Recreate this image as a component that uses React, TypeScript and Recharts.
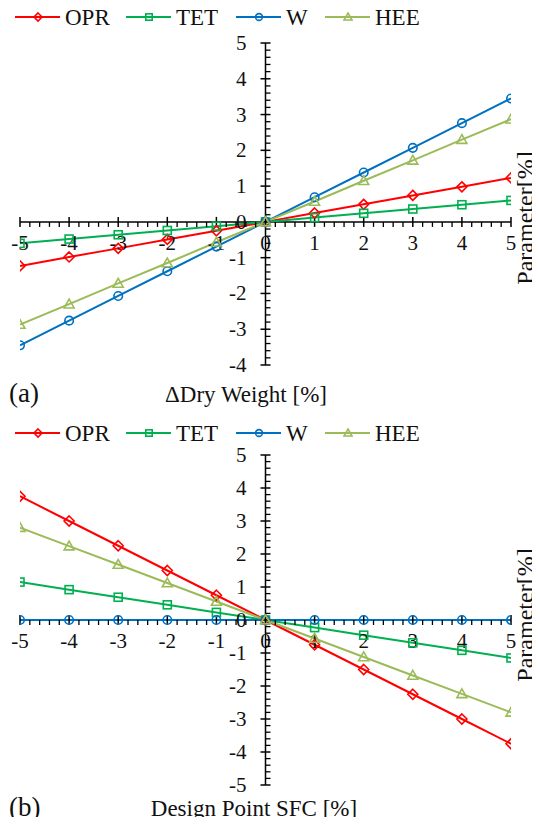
import React from "react";
import {
  LineChart,
  Line,
  XAxis,
  YAxis,
  ReferenceLine,
  ReferenceDot,
} from "recharts";

const X_VALUES = [-5, -4, -3, -2, -1, 0, 1, 2, 3, 4, 5];

// (a) ΔDry Weight
const OPR_A = [-1.23, -0.98, -0.74, -0.49, -0.25, 0, 0.25, 0.49, 0.74, 0.98, 1.23];
const TET_A = [-0.6, -0.48, -0.36, -0.24, -0.12, 0, 0.12, 0.24, 0.36, 0.48, 0.6];
const W_A = [-3.45, -2.76, -2.07, -1.38, -0.69, 0, 0.69, 1.38, 2.07, 2.76, 3.45];
const HEE_A = [-2.87, -2.3, -1.72, -1.15, -0.57, 0, 0.57, 1.15, 1.72, 2.3, 2.87];

// (b) Design Point SFC
const OPR_B = [3.75, 3.0, 2.25, 1.5, 0.75, 0, -0.75, -1.5, -2.25, -3.0, -3.75];
const TET_B = [1.15, 0.92, 0.69, 0.46, 0.23, 0, -0.23, -0.46, -0.69, -0.92, -1.15];
const W_B = [0, 0, 0, 0, 0, 0, 0, 0, 0, 0, 0];
const HEE_B = [2.8, 2.24, 1.68, 1.12, 0.56, 0, -0.56, -1.12, -1.68, -2.24, -2.8];

const X_TICKS = [-5, -4, -3, -2, -1, 0, 1, 2, 3, 4, 5];
const Y_TICKS_A = [-4, -3, -2, -1, 0, 1, 2, 3, 4, 5];
const Y_TICKS_B = [-5, -4, -3, -2, -1, 0, 1, 2, 3, 4, 5];

const SERIES = [
  { key: "OPR", color: "#ff0000", shape: "diamond" },
  { key: "TET", color: "#00b050", shape: "square" },
  { key: "W", color: "#0070c0", shape: "circle" },
  { key: "HEE", color: "#9bbb59", shape: "triangle" },
];

const FONT = "Liberation Serif";

function minorTicks(lo: number, hi: number) {
  const out: number[] = [];
  for (let i = Math.round(lo * 5); i <= Math.round(hi * 5); i++) {
    if (i % 5 !== 0) out.push(i / 5);
  }
  return out;
}

function Marker({ shape, cx, cy, color, s }: any) {
  const common = { fill: "none", stroke: color, strokeWidth: 1.6 };
  if (shape === "diamond")
    return (
      <polygon
        {...common}
        points={`${cx},${cy - s} ${cx + s},${cy} ${cx},${cy + s} ${cx - s},${cy}`}
      />
    );
  if (shape === "square")
    return <rect {...common} x={cx - s * 0.8} y={cy - s * 0.8} width={s * 1.6} height={s * 1.6} />;
  if (shape === "circle") return <circle {...common} cx={cx} cy={cy} r={s * 0.85} />;
  return (
    <polygon
      {...common}
      points={`${cx},${cy - s} ${cx + s},${cy + s * 0.75} ${cx - s},${cy + s * 0.75}`}
    />
  );
}

function Legend({ y }: { y: number }) {
  const xs = [15, 126, 236, 325];
  return (
    <g>
      {SERIES.map((s, i) => (
        <g key={s.key}>
          <line x1={xs[i]} x2={xs[i] + 45} y1={y} y2={y} stroke={s.color} strokeWidth={2} />
          <Marker shape={s.shape} cx={xs[i] + 23} cy={y} color={s.color} s={4} />
          <text
            x={xs[i] + 50}
            y={y}
            dominantBaseline="central"
            style={{ fontFamily: FONT, fontSize: 23, fill: "#111" }}
          >
            {s.key}
          </text>
        </g>
      ))}
    </g>
  );
}

const xMajor = (p: any) => (
  <g>
    <line x1={p.cx} x2={p.cx} y1={p.cy - 5} y2={p.cy + 5} stroke="#000" strokeWidth={1.5} />
    <text
      x={p.cx}
      y={p.cy + 21}
      textAnchor="middle"
      dominantBaseline="central"
      style={{ fontFamily: FONT, fontSize: 21, fill: "#111" }}
    >
      {p.label}
    </text>
  </g>
);
const xMinor = (p: any) => (
  <line x1={p.cx} x2={p.cx} y1={p.cy} y2={p.cy + 5} stroke="#000" strokeWidth={1.3} />
);
const yMajor = (p: any) => (
  <g>
    <line x1={p.cx - 5} x2={p.cx + 5} y1={p.cy} y2={p.cy} stroke="#000" strokeWidth={1.5} />
    <text
      x={p.cx - 19}
      y={p.cy}
      textAnchor="end"
      dominantBaseline="central"
      style={{ fontFamily: FONT, fontSize: 21, fill: "#111" }}
    >
      {p.label}
    </text>
  </g>
);
const yMinor = (p: any) => (
  <line x1={p.cx} x2={p.cx + 5} y1={p.cy} y2={p.cy} stroke="#000" strokeWidth={1.3} />
);

function Panel({
  values,
  yTicks,
  height,
  margin,
}: {
  values: number[][];
  yTicks: number[];
  height: number;
  margin: any;
}) {
  const rows = X_VALUES.map((x, i) => ({
    x,
    OPR: values[0][i],
    TET: values[1][i],
    W: values[2][i],
    HEE: values[3][i],
  }));
  const yMin = yTicks[0];
  const yMax = yTicks[yTicks.length - 1];
  return (
    <LineChart width={540} height={height} data={rows} margin={margin}>
      <XAxis dataKey="x" type="number" domain={[-5, 5]} hide allowDataOverflow />
      <YAxis type="number" domain={[yMin, yMax]} hide allowDataOverflow />
      <ReferenceLine y={0} stroke="#000" strokeWidth={1.5} ifOverflow="visible" />
      <ReferenceLine x={0} stroke="#000" strokeWidth={1.5} ifOverflow="visible" />
      {minorTicks(-5, 5).map((v) => (
        <ReferenceDot key={"xm" + v} x={v} y={0} r={1} ifOverflow="visible" shape={xMinor} />
      ))}
      {X_TICKS.map((v) => (
        <ReferenceDot
          key={"xM" + v}
          x={v}
          y={0}
          r={1}
          ifOverflow="visible"
          shape={(p: any) => xMajor({ ...p, label: String(v) })}
        />
      ))}
      {minorTicks(yMin, yMax).map((v) => (
        <ReferenceDot key={"ym" + v} x={0} y={v} r={1} ifOverflow="visible" shape={yMinor} />
      ))}
      {yTicks.map((v) => (
        <ReferenceDot
          key={"yM" + v}
          x={0}
          y={v}
          r={1}
          ifOverflow="visible"
          shape={(p: any) => yMajor({ ...p, label: String(v) })}
        />
      ))}
      {SERIES.map((s) => (
        <Line
          key={s.key}
          dataKey={s.key}
          stroke={s.color}
          strokeWidth={2}
          isAnimationActive={false}
          dot={(p: any) => (
            <Marker key={s.key + p.index} shape={s.shape} cx={p.cx} cy={p.cy} color={s.color} s={5} />
          )}
        />
      ))}
    </LineChart>
  );
}

function Overlay() {
  const t = (size: number): React.CSSProperties => ({ fontFamily: FONT, fontSize: size, fill: "#111" });
  return (
    <svg
      width={540}
      height={825}
      style={{ position: "absolute", left: 0, top: 0, pointerEvents: "none" }}
    >
      <Legend y={17} />
      <Legend y={433} />
      <text transform="translate(533, 218) rotate(-90)" textAnchor="middle" style={t(24)}>
        Parameter[%]
      </text>
      <text transform="translate(533, 615) rotate(-90)" textAnchor="middle" style={t(24)}>
        Parameter[%]
      </text>
      <text x={9} y={393} dominantBaseline="central" style={t(27)}>
        (a)
      </text>
      <text x={246} y={394} textAnchor="middle" dominantBaseline="central" style={t(23)}>
        ΔDry Weight [%]
      </text>
      <text x={9} y={807} dominantBaseline="central" style={t(27)}>
        (b)
      </text>
      <text x={254} y={808} textAnchor="middle" dominantBaseline="central" style={t(23)}>
        Design Point SFC [%]
      </text>
    </svg>
  );
}

export default function App() {
  return (
    <div
      style={{
        position: "relative",
        width: 540,
        height: 825,
        margin: -8,
        background: "#fff",
        overflow: "hidden",
      }}
    >
      <div style={{ position: "absolute", left: 0, top: 0 }}>
        <Panel
          values={[OPR_A, TET_A, W_A, HEE_A]}
          yTicks={Y_TICKS_A}
          height={380}
          margin={{ top: 43, right: 29, bottom: 15, left: 20 }}
        />
      </div>
      <div style={{ position: "absolute", left: 0, top: 412 }}>
        <Panel
          values={[OPR_B, TET_B, W_B, HEE_B]}
          yTicks={Y_TICKS_B}
          height={390}
          margin={{ top: 43, right: 29, bottom: 17, left: 20 }}
        />
      </div>
      <Overlay />
    </div>
  );
}
